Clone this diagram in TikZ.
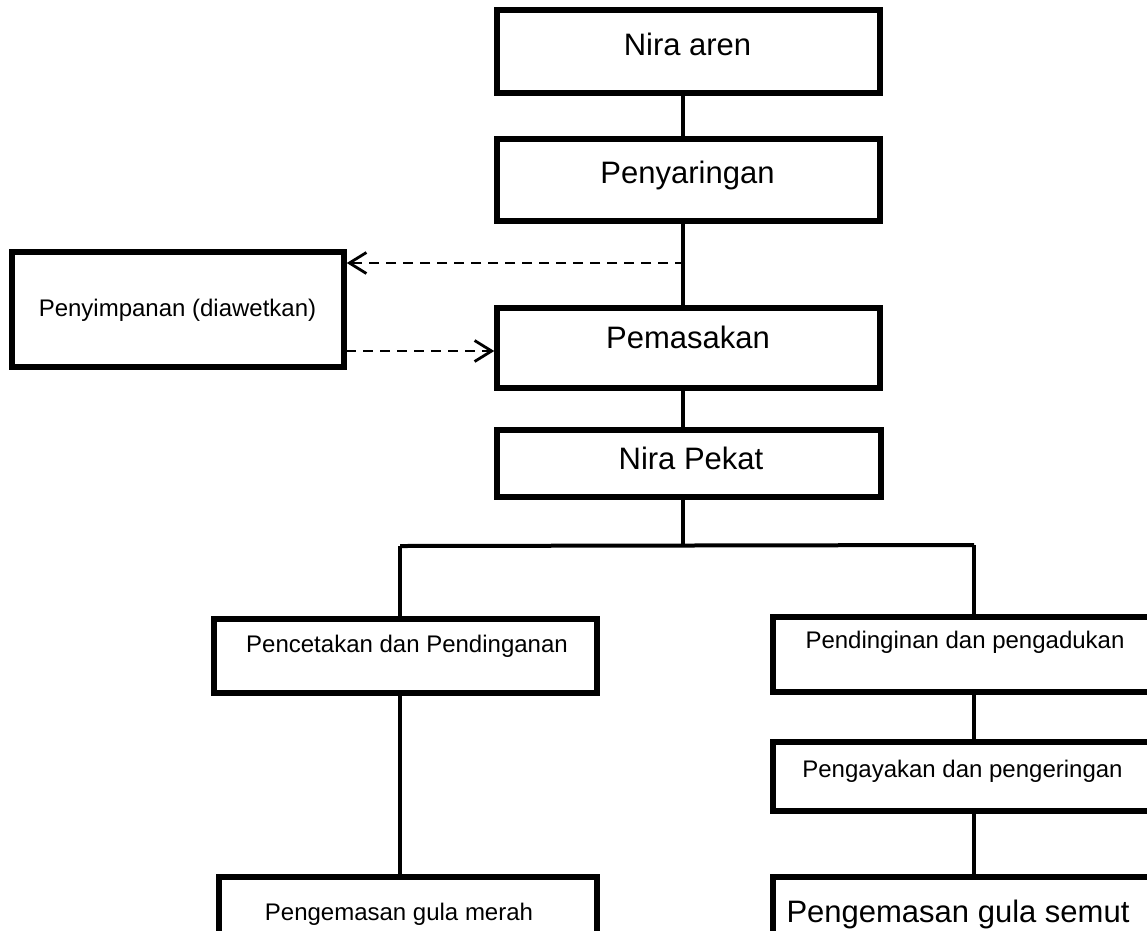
\documentclass[tikz,border=0pt]{standalone}
\usepackage{fontspec}
\setmainfont{Liberation Sans}
\usetikzlibrary{arrows.meta}
\begin{document}
\begin{tikzpicture}[x=1pt,y=-1pt,
  box/.style={draw, line width=5.5pt, inner sep=0pt, rectangle},
  bigtxt/.style={anchor=base, inner sep=0pt, font=\fontsize{31}{36}\selectfont},
  smalltxt/.style={anchor=base, inner sep=0pt, font=\fontsize{24}{28}\selectfont},
  conn/.style={line width=3.2pt},
  dashconn/.style={line width=2.8pt, dash pattern=on 10pt off 7pt,
    -{Straight Barb[length=17pt,width=21pt,line width=2.8pt]}}]
\useasboundingbox (0,0) rectangle (1147,930);
% boxes
\node[box, minimum width=383pt, minimum height=83pt] (na) at (688.5,51.5) {};
\node[box, minimum width=383pt, minimum height=82pt] (ps) at (688.5,180) {};
\node[box, minimum width=383pt, minimum height=80pt] (pm) at (688.5,348) {};
\node[box, minimum width=384pt, minimum height=67pt] (np) at (689,463.5) {};
\node[box, minimum width=332pt, minimum height=115pt] (sim) at (178,309.5) {};
\node[box, minimum width=383pt, minimum height=74pt] (pc) at (405.5,656) {};
\node[box, minimum width=397pt, minimum height=75pt] (pd) at (971.5,654.5) {};
\node[box, minimum width=397pt, minimum height=69pt] (pg) at (971.5,776.5) {};
\node[box, minimum width=378pt, minimum height=64pt] (gm) at (408,909) {};
\node[box, minimum width=397pt, minimum height=64pt] (gs) at (971.5,909) {};
% texts
\node[bigtxt] (na-t) at (687.5,55) {Nira aren};
\node[bigtxt] (ps-t) at (687.5,183) {Penyaringan};
\node[bigtxt] (pm-t) at (688,348) {Pemasakan};
\node[bigtxt] (np-t) at (691,469) {Nira Pekat};
\node[smalltxt] (sim-t) at (177.5,316) {Penyimpanan (diawetkan)};
\node[smalltxt] (pc-t) at (407,652) {Pencetakan dan Pendinganan};
\node[smalltxt] (pd-t) at (965,648) {Pendinginan dan pengadukan};
\node[smalltxt] (pg-t) at (962.5,777) {Pengayakan dan pengeringan};
\node[smalltxt] (gm-t) at (399,920) {Pengemasan gula merah};
\node[bigtxt] (gs-t) at (958,922) {Pengemasan gula semut};
% helper coordinates
\coordinate (sp) at (683,0);
\coordinate (lx) at (400,0);
\coordinate (rx) at (974,0);
\coordinate (jl) at (400,546);
\coordinate (jr) at (974,545);
\coordinate (jm) at (683,545.5);
\coordinate (d1) at (685,263);
\coordinate (d2) at (346,351);
% connectors
\draw[conn] (na.south -| sp) -- (ps.north -| sp);
\draw[conn] (ps.south -| sp) -- (pm.north -| sp);
\draw[conn] (pm.south -| sp) -- (np.north -| sp);
\draw[conn] (np.south -| sp) -- (jm);
\draw[line width=4pt] (jl) -- (jr);
\draw[conn] (jl) -- (pc.north -| lx);
\draw[conn] (jr) -- (pd.north -| rx);
\draw[conn] (pc.south -| lx) -- (gm.north -| lx);
\draw[conn] (pd.south -| rx) -- (pg.north -| rx);
\draw[conn] (pg.south -| rx) -- (gs.north -| rx);
% dashed arrows
\draw[dashconn] (d1) -- (sim.east |- d1);
\draw[dashconn] (d2) -- (pm.west |- d2);
\end{tikzpicture}
\end{document}
